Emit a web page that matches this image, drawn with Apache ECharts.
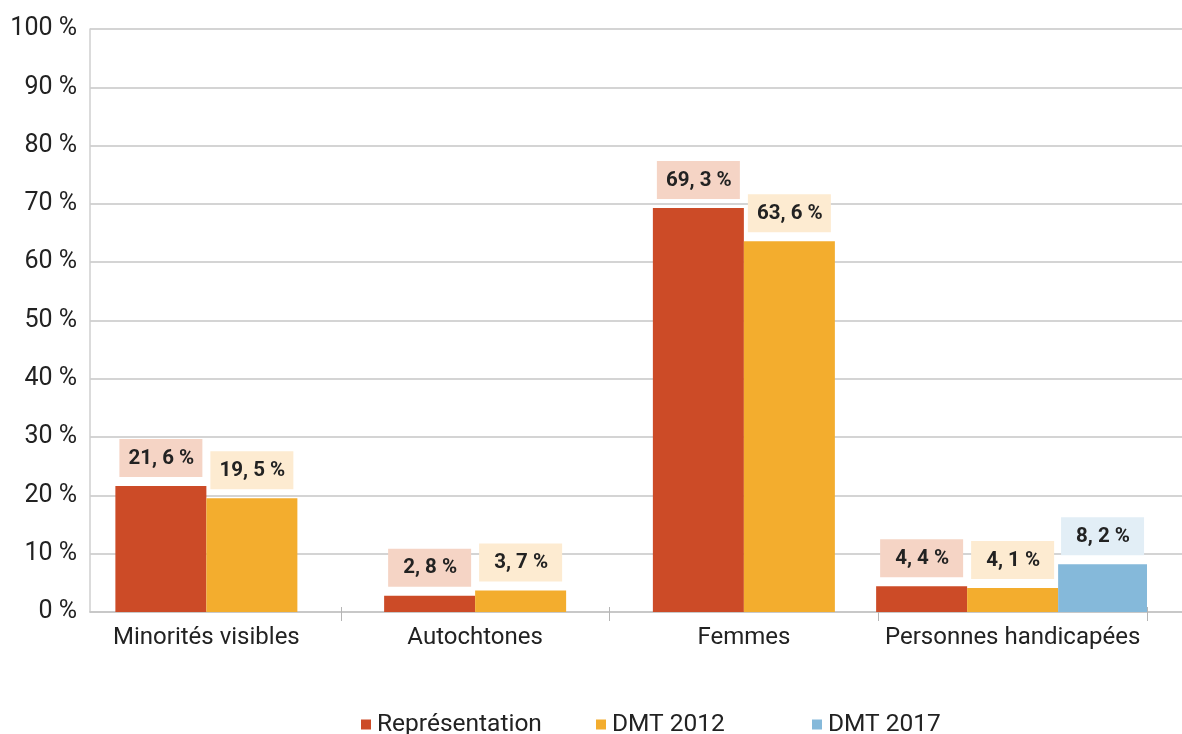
<!DOCTYPE html>
<html>
<head>
<meta charset="utf-8">
<script src="https://cdn.jsdelivr.net/npm/echarts@6/dist/echarts.min.js"></script>
<style>
html,body{margin:0;padding:0;background:#fff;}
#chart{width:1182px;height:734px;}
</style>
</head>
<body>
<div id="chart"></div>
<script>
// ---- data ----
const categories = ['Minorités visibles', 'Autochtones', 'Femmes', 'Personnes handicapées'];
const representation = [21.6, 2.8, 69.3, 4.4];
const dmt2012 = [19.5, 3.7, 63.6, 4.1];
const dmt2017 = [null, null, null, 8.2];
const seriesNames = ['Représentation', 'DMT 2012', 'DMT 2017'];
const yMin = 0, yMax = 100, yStep = 10;

// ---- styles ----
const FONT = 'Roboto';
const colors = ['#cc4b27', '#f3ad2e', '#85b9da'];
const labelBg = ['#f5d4c5', '#fdebd1', '#e2eef6'];

const hasThird = dmt2017.map(v => v != null);
function mask(arr, keep) { return arr.map((v, i) => (keep(i) && v != null) ? v : '-'); }

function fmt(p) {
  return String(p.value).replace('.', ', ') + ' %';
}
function barLabel(idx) {
  return {
    show: true,
    position: 'top',
    distance: 9,
    formatter: fmt,
    fontFamily: FONT,
    fontWeight: 'bold',
    fontSize: 20.5,
    color: '#222',
    backgroundColor: labelBg[idx],
    width: 66,
    align: 'center',
    padding: [9, 8, 8, 9]
  };
}
function makeSeries(name, idx, data, xAxisIndex) {
  return {
    name: name,
    type: 'bar',
    xAxisIndex: xAxisIndex,
    yAxisIndex: 0,
    data: data,
    barWidth: 91,
    barGap: '0%',
    itemStyle: { color: colors[idx] },
    label: barLabel(idx),
    emphasis: { disabled: true },
    animation: false
  };
}

const series = [
  // groups with two series
  makeSeries(seriesNames[0], 0, mask(representation, i => !hasThird[i]), 0),
  makeSeries(seriesNames[1], 1, mask(dmt2012, i => !hasThird[i]), 0),
  // groups with three series
  makeSeries(seriesNames[0], 0, mask(representation, i => hasThird[i]), 1),
  makeSeries(seriesNames[1], 1, mask(dmt2012, i => hasThird[i]), 1),
  makeSeries(seriesNames[2], 2, mask(dmt2017, i => hasThird[i]), 1)
];

function legendAt(name, left) {
  return {
    data: [name],
    left: left,
    top: 712,
    padding: 0,
    icon: 'rect',
    itemWidth: 10,
    itemHeight: 10,
    itemGap: 0,
    selectedMode: false,
    textStyle: { fontFamily: FONT, fontSize: 24.5, color: '#222', padding: [0, 0, 14, 1] }
  };
}

const chart = echarts.init(document.getElementById('chart'), null, { renderer: 'canvas' });
chart.setOption({
  backgroundColor: '#fff',
  animation: false,
  legend: [
    legendAt(seriesNames[0], 361),
    legendAt(seriesNames[1], 596),
    legendAt(seriesNames[2], 812)
  ],
  grid: [
    { left: 72, right: 35, top: 29, bottom: 122 },   // bars
    { left: 90, right: 0, top: 29, bottom: 122 }     // frame / gridlines
  ],
  xAxis: [
    {
      type: 'category', gridIndex: 0, data: categories, offset: -5,
      axisLine: { show: false },
      axisTick: { show: true, length: 14, lineStyle: { color: '#b5b5b5' },
                  interval: (i) => i !== 0 },
      axisLabel: { fontFamily: FONT, fontSize: 24, color: '#222', margin: 19, interval: 0 }
    },
    {
      type: 'category', gridIndex: 0, data: categories, show: false
    },
    {
      type: 'value', gridIndex: 1, min: 0, max: 1,
      axisLine: { show: true, lineStyle: { color: '#c4c4c4', width: 1.5 } },
      axisTick: { show: false }, axisLabel: { show: false }, splitLine: { show: false }
    }
  ],
  yAxis: [
    {
      type: 'value', gridIndex: 0, min: yMin, max: yMax, interval: yStep, show: false
    },
    {
      type: 'value', gridIndex: 1, min: yMin, max: yMax, interval: yStep,
      axisLine: { show: true, lineStyle: { color: '#cfcfcf', width: 1.5 } },
      axisTick: { show: false },
      axisLabel: { fontFamily: FONT, fontSize: 25, color: '#222', margin: 13,
                   formatter: '{value} %' },
      splitLine: { show: true, lineStyle: { color: '#c6c6c6', width: 1.5 } }
    }
  ],
  series: series
});
</script>
</body>
</html>
